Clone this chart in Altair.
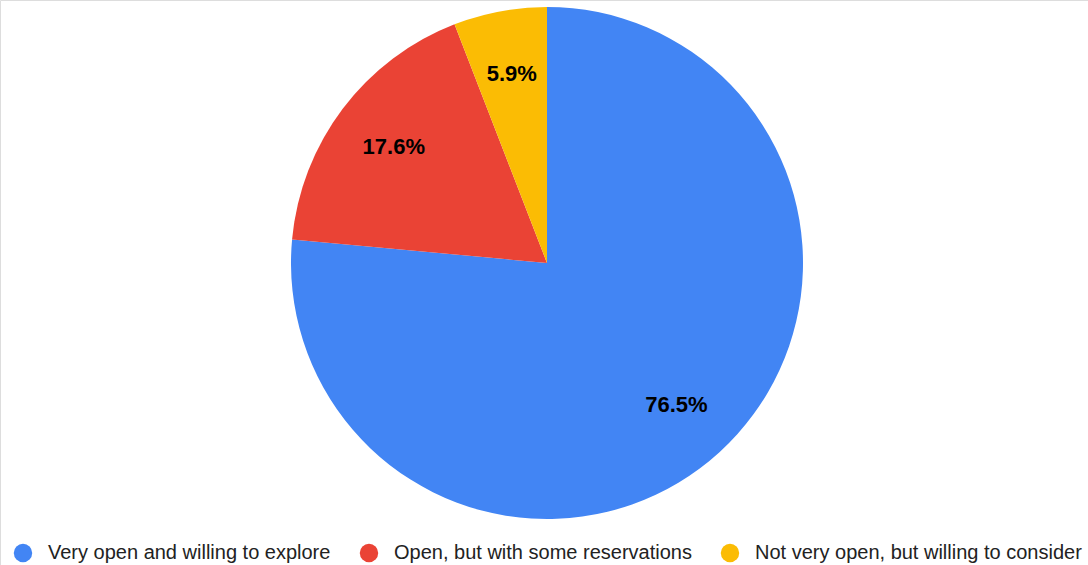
import altair as alt
import pandas as pd

categories = ["Very open and willing to explore", "Open, but with some reservations", "Not very open, but willing to consider"]
counts = [13, 3, 1]
labels = ["76.5%", "17.6%", "5.9%"]
colors = ["#4285F4", "#EA4335", "#FBBC04"]

df = pd.DataFrame({"category": categories, "count": counts, "label": labels, "idx": [0, 1, 2]})

base = alt.Chart(df).encode(
    theta=alt.Theta("count:Q", stack=True),
    order=alt.Order("idx:Q"),
    x=alt.value(547),
    y=alt.value(263),
)

pie = base.mark_arc(outerRadius=256).encode(
    color=alt.Color(
        "category:N",
        scale=alt.Scale(domain=categories, range=colors),
        sort=categories,
        legend=alt.Legend(
            title=None,
            orient="none",
            legendX=13,
            legendY=543,
            direction="horizontal",
            symbolType="circle",
            symbolSize=340,
            symbolStrokeWidth=0,
            labelFontSize=20,
            labelFont="Liberation Sans",
            labelColor="#222222",
            labelOffset=15,
            columnPadding=28,
            labelLimit=500,
        ),
    )
)

text = base.mark_text(radius=192, fontSize=22, fontWeight="bold", font="Liberation Sans", color="#000000").encode(
    text="label:N"
)

chart = (pie + text).properties(
    width=1088, height=565, autosize=alt.AutoSizeParams(type="none"), padding=0
).configure_view(stroke=None).configure(background="white")

chart.save("out.html", embed_options={"renderer": "svg", "actions": False})
